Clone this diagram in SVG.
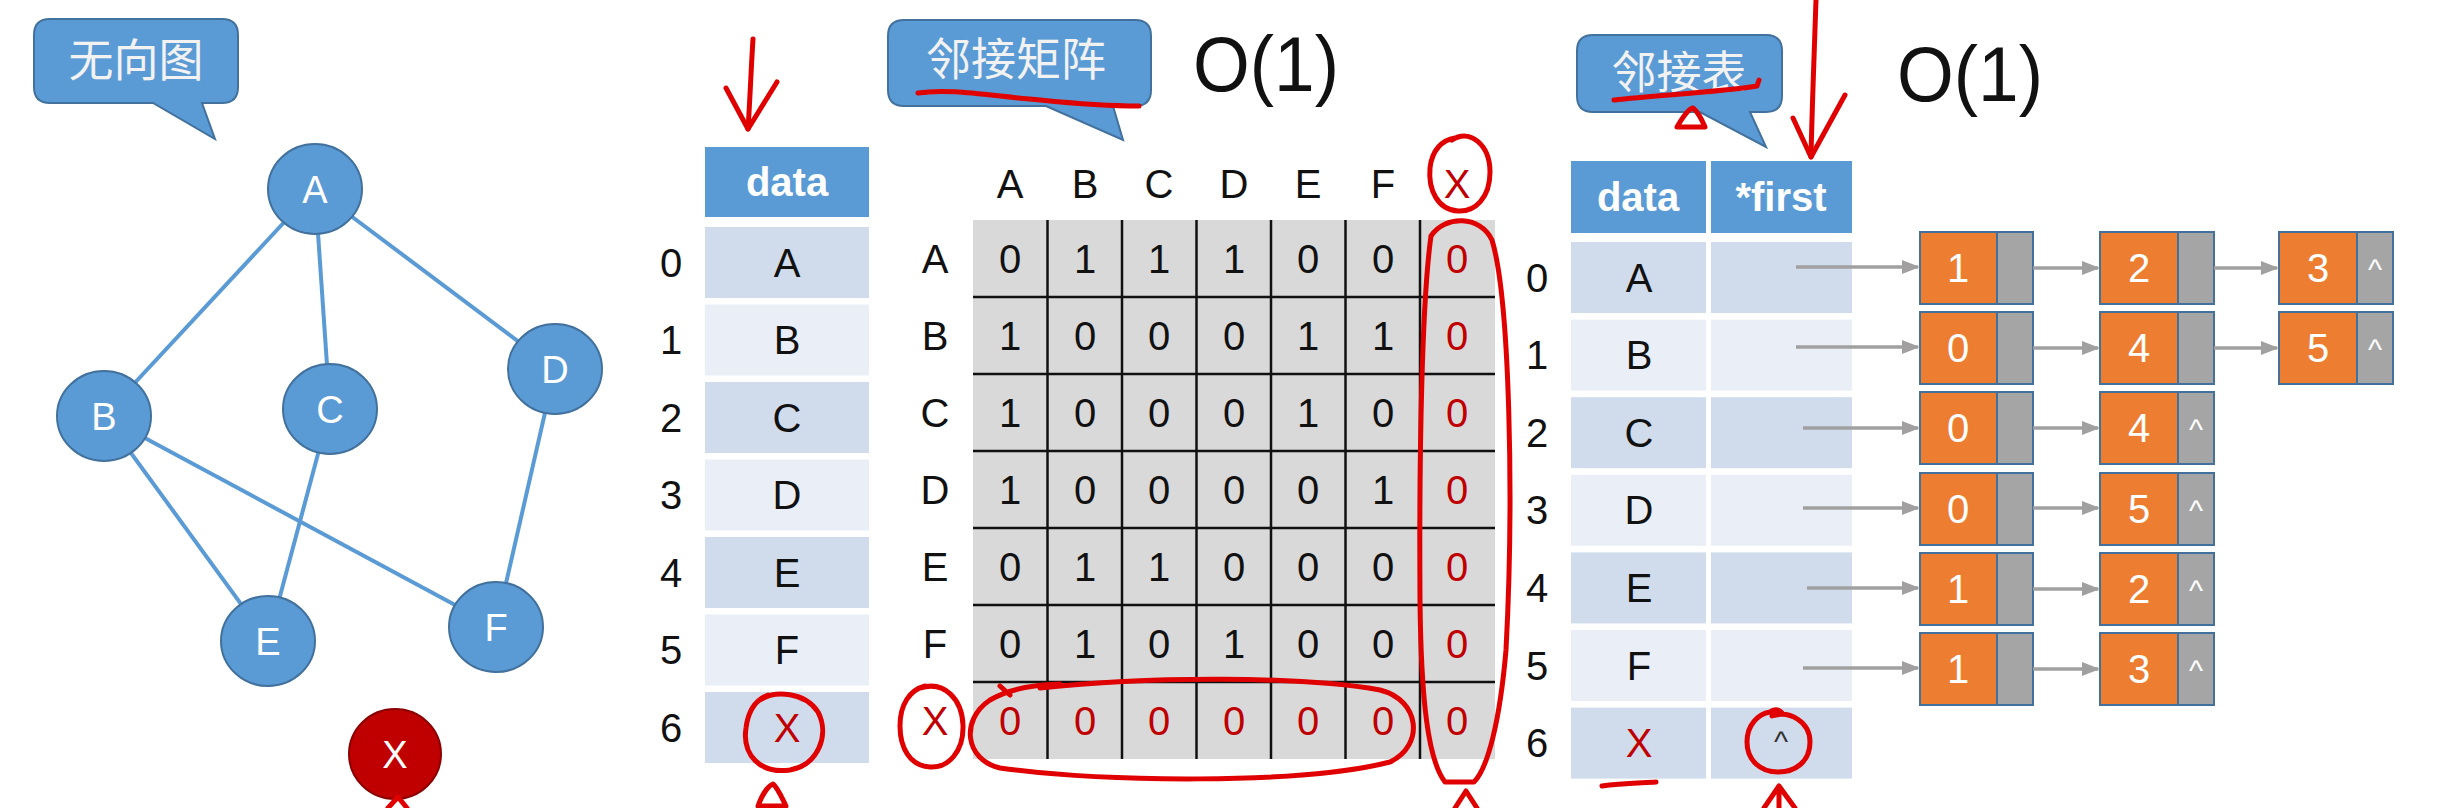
<svg xmlns="http://www.w3.org/2000/svg" width="2446" height="808" viewBox="0 0 2446 808">
<defs>
<style>
.bub{fill:#5B9BD5;stroke:#41719C;stroke-width:2}
.bubt{font-family:"Noto Sans CJK SC","Noto Sans",sans-serif;font-size:45px;fill:#F2F2F2;text-anchor:middle}
.gn{fill:#5B9BD5;stroke:#41719C;stroke-width:2}
.gt{font-family:"Liberation Sans",Arial,sans-serif;font-size:38px;fill:#FFFFFF;text-anchor:middle}
.edge{stroke:#5B9BD5;stroke-width:4;fill:none}
.hd{fill:#5B9BD5}
.hdt{font-family:"Liberation Sans",Arial,sans-serif;font-size:40px;font-weight:bold;fill:#FFFFFF;text-anchor:middle}
.r0{fill:#D0DCEC}
.r1{fill:#EAEFF7}
.t{font-family:"Liberation Sans",Arial,sans-serif;font-size:40px;fill:#111111;text-anchor:middle}
.tr{font-family:"Liberation Sans",Arial,sans-serif;font-size:40px;fill:#C00000;text-anchor:middle}
.big{font-family:"Liberation Sans",Arial,sans-serif;font-size:78px;fill:#111111}
.grid{stroke:#111111;stroke-width:2.5}
.or{fill:#ED7D31;stroke:#41719C;stroke-width:2}
.gy{fill:#A5A5A5;stroke:#41719C;stroke-width:2}
.lt{font-family:"Liberation Sans",Arial,sans-serif;font-size:40px;fill:#FFFFFF;text-anchor:middle}
.cr{font-family:"Liberation Sans",Arial,sans-serif;font-size:30px;fill:#FFFFFF;text-anchor:middle}
.arr{stroke:#A0A0A0;stroke-width:3.5;fill:none;marker-end:url(#ah)}
.red{stroke:#E00000;stroke-width:5;fill:none;stroke-linecap:round;stroke-linejoin:round}
</style>
<marker id="ah" markerUnits="userSpaceOnUse" markerWidth="18" markerHeight="14" refX="16" refY="7" orient="auto">
<path d="M0,0 L18,7 L0,14 Z" fill="#A0A0A0"/>
</marker>
</defs>
<rect width="2446" height="808" fill="#FFFFFF"/>

<!-- Callout 无向图 -->
<g id="callout-graph">
<path class="bub" d="M50,19 H222 Q238,19 238,35 V87 Q238,103 222,103 H202 L215,139 L153,103 H50 Q34,103 34,87 V35 Q34,19 50,19 Z"/>
<text class="bubt" x="136" y="77">无向图</text>
</g>

<!-- Graph edges -->
<g id="connectors">
<line class="edge" x1="315" y1="189" x2="104" y2="416"/>
<line class="edge" x1="315" y1="189" x2="330" y2="409"/>
<line class="edge" x1="315" y1="189" x2="555" y2="369"/>
<line class="edge" x1="104" y1="416" x2="268" y2="641"/>
<line class="edge" x1="104" y1="416" x2="496" y2="627"/>
<line class="edge" x1="330" y1="409" x2="268" y2="641"/>
<line class="edge" x1="555" y1="369" x2="496" y2="627"/>
</g>

<g id="node-A"><ellipse class="gn" cx="315" cy="189" rx="47" ry="45"/><text class="gt" x="315" y="203">A</text></g>
<g id="node-B"><ellipse class="gn" cx="104" cy="416" rx="47" ry="45"/><text class="gt" x="104" y="430">B</text></g>
<g id="node-C"><ellipse class="gn" cx="330" cy="409" rx="47" ry="45"/><text class="gt" x="330" y="423">C</text></g>
<g id="node-D"><ellipse class="gn" cx="555" cy="369" rx="47" ry="45"/><text class="gt" x="555" y="383">D</text></g>
<g id="node-E"><ellipse class="gn" cx="268" cy="641" rx="47" ry="45"/><text class="gt" x="268" y="655">E</text></g>
<g id="node-F"><ellipse class="gn" cx="496" cy="627" rx="47" ry="45"/><text class="gt" x="496" y="641">F</text></g>
<g id="node-X"><ellipse cx="395" cy="754" rx="46" ry="45" fill="#C00000" stroke="#8B0000" stroke-width="2"/><text class="gt" x="395" y="768">X</text></g>

<!-- data table -->
<g id="data-table">
<rect class="hd" x="705" y="147" width="164" height="70"/>
<text class="hdt" x="787" y="196">data</text>
<rect class="r0" x="705" y="227" width="164" height="71"/>
<rect class="r1" x="705" y="304.5" width="164" height="71"/>
<rect class="r0" x="705" y="382" width="164" height="71"/>
<rect class="r1" x="705" y="459.5" width="164" height="71"/>
<rect class="r0" x="705" y="537" width="164" height="71"/>
<rect class="r1" x="705" y="614.5" width="164" height="71"/>
<rect class="r0" x="705" y="692" width="164" height="71"/>
<text class="t" x="787" y="277">A</text>
<text class="t" x="787" y="354">B</text>
<text class="t" x="787" y="432">C</text>
<text class="t" x="787" y="509">D</text>
<text class="t" x="787" y="587">E</text>
<text class="t" x="787" y="664">F</text>
<text class="tr" x="787" y="742">X</text>
<text class="t" x="671" y="277">0</text>
<text class="t" x="671" y="354">1</text>
<text class="t" x="671" y="432">2</text>
<text class="t" x="671" y="509">3</text>
<text class="t" x="671" y="587">4</text>
<text class="t" x="671" y="664">5</text>
<text class="t" x="671" y="742">6</text>
</g>

<!-- Callout 邻接矩阵 -->
<g id="callout-matrix">
<path class="bub" d="M904,20 H1135 Q1151,20 1151,36 V90 Q1151,106 1135,106 H1113 L1123,140 L1046,106 H904 Q888,106 888,90 V36 Q888,20 904,20 Z"/>
<text class="bubt" x="1016" y="76">邻接矩阵</text>
</g>
<text class="big" x="1193" y="91" textLength="146" lengthAdjust="spacingAndGlyphs">O(1)</text>

<!-- adjacency matrix -->
<g id="matrix">
<rect x="973" y="220" width="522" height="539" fill="#D9D9D9"/>
<g class="grid">
<line x1="1047.5" y1="220" x2="1047.5" y2="759"/>
<line x1="1122" y1="220" x2="1122" y2="759"/>
<line x1="1196.5" y1="220" x2="1196.5" y2="759"/>
<line x1="1271" y1="220" x2="1271" y2="759"/>
<line x1="1345.5" y1="220" x2="1345.5" y2="759"/>
<line x1="1420" y1="220" x2="1420" y2="759"/>
<line x1="973" y1="297" x2="1495" y2="297"/>
<line x1="973" y1="374" x2="1495" y2="374"/>
<line x1="973" y1="451" x2="1495" y2="451"/>
<line x1="973" y1="528" x2="1495" y2="528"/>
<line x1="973" y1="605" x2="1495" y2="605"/>
<line x1="973" y1="682" x2="1495" y2="682"/>
</g>
<text class="t" x="1010" y="198">A</text>
<text class="t" x="1085" y="198">B</text>
<text class="t" x="1159" y="198">C</text>
<text class="t" x="1234" y="198">D</text>
<text class="t" x="1308" y="198">E</text>
<text class="t" x="1383" y="198">F</text>
<text class="tr" x="1457" y="198">X</text>
<text class="t" x="935" y="273">A</text>
<text class="t" x="935" y="350">B</text>
<text class="t" x="935" y="427">C</text>
<text class="t" x="935" y="504">D</text>
<text class="t" x="935" y="581">E</text>
<text class="t" x="935" y="658">F</text>
<text class="tr" x="935" y="735">X</text>
<!-- row A -->
<text class="t" x="1010" y="273">0</text><text class="t" x="1085" y="273">1</text><text class="t" x="1159" y="273">1</text><text class="t" x="1234" y="273">1</text><text class="t" x="1308" y="273">0</text><text class="t" x="1383" y="273">0</text><text class="tr" x="1457" y="273">0</text>
<!-- row B -->
<text class="t" x="1010" y="350">1</text><text class="t" x="1085" y="350">0</text><text class="t" x="1159" y="350">0</text><text class="t" x="1234" y="350">0</text><text class="t" x="1308" y="350">1</text><text class="t" x="1383" y="350">1</text><text class="tr" x="1457" y="350">0</text>
<!-- row C -->
<text class="t" x="1010" y="427">1</text><text class="t" x="1085" y="427">0</text><text class="t" x="1159" y="427">0</text><text class="t" x="1234" y="427">0</text><text class="t" x="1308" y="427">1</text><text class="t" x="1383" y="427">0</text><text class="tr" x="1457" y="427">0</text>
<!-- row D -->
<text class="t" x="1010" y="504">1</text><text class="t" x="1085" y="504">0</text><text class="t" x="1159" y="504">0</text><text class="t" x="1234" y="504">0</text><text class="t" x="1308" y="504">0</text><text class="t" x="1383" y="504">1</text><text class="tr" x="1457" y="504">0</text>
<!-- row E -->
<text class="t" x="1010" y="581">0</text><text class="t" x="1085" y="581">1</text><text class="t" x="1159" y="581">1</text><text class="t" x="1234" y="581">0</text><text class="t" x="1308" y="581">0</text><text class="t" x="1383" y="581">0</text><text class="tr" x="1457" y="581">0</text>
<!-- row F -->
<text class="t" x="1010" y="658">0</text><text class="t" x="1085" y="658">1</text><text class="t" x="1159" y="658">0</text><text class="t" x="1234" y="658">1</text><text class="t" x="1308" y="658">0</text><text class="t" x="1383" y="658">0</text><text class="tr" x="1457" y="658">0</text>
<!-- row X -->
<text class="tr" x="1010" y="735">0</text><text class="tr" x="1085" y="735">0</text><text class="tr" x="1159" y="735">0</text><text class="tr" x="1234" y="735">0</text><text class="tr" x="1308" y="735">0</text><text class="tr" x="1383" y="735">0</text><text class="tr" x="1457" y="735">0</text>
</g>

<!-- Callout 邻接表 -->
<g id="callout-list">
<path class="bub" d="M1593,35 H1766 Q1782,35 1782,51 V96 Q1782,112 1766,112 H1750 L1766,147 L1700,112 H1593 Q1577,112 1577,96 V51 Q1577,35 1593,35 Z"/>
<text class="bubt" x="1679" y="89">邻接表</text>
</g>
<text class="big" x="1897" y="101" textLength="146" lengthAdjust="spacingAndGlyphs">O(1)</text>

<!-- adjacency list table -->
<g id="list-table">
<rect class="hd" x="1571" y="161" width="135" height="72"/>
<rect class="hd" x="1711" y="161" width="141" height="72"/>
<text class="hdt" x="1638" y="211">data</text>
<text class="hdt" x="1781" y="211">*first</text>
<rect class="r0" x="1571" y="242" width="135" height="71"/><rect class="r0" x="1711" y="242" width="141" height="71"/>
<rect class="r1" x="1571" y="319.6" width="135" height="71"/><rect class="r1" x="1711" y="319.6" width="141" height="71"/>
<rect class="r0" x="1571" y="397.2" width="135" height="71"/><rect class="r0" x="1711" y="397.2" width="141" height="71"/>
<rect class="r1" x="1571" y="474.8" width="135" height="71"/><rect class="r1" x="1711" y="474.8" width="141" height="71"/>
<rect class="r0" x="1571" y="552.4" width="135" height="71"/><rect class="r0" x="1711" y="552.4" width="141" height="71"/>
<rect class="r1" x="1571" y="630" width="135" height="71"/><rect class="r1" x="1711" y="630" width="141" height="71"/>
<rect class="r0" x="1571" y="707.6" width="135" height="71"/><rect class="r0" x="1711" y="707.6" width="141" height="71"/>
<text class="t" x="1639" y="292">A</text>
<text class="t" x="1639" y="369">B</text>
<text class="t" x="1639" y="447">C</text>
<text class="t" x="1639" y="524">D</text>
<text class="t" x="1639" y="602">E</text>
<text class="t" x="1639" y="680">F</text>
<text class="tr" x="1639" y="757">X</text>
<text x="1781" y="752" font-family="Liberation Sans, Arial, sans-serif" font-size="30" fill="#333333" text-anchor="middle">^</text>
<text class="t" x="1537" y="292">0</text>
<text class="t" x="1537" y="369">1</text>
<text class="t" x="1537" y="447">2</text>
<text class="t" x="1537" y="524">3</text>
<text class="t" x="1537" y="602">4</text>
<text class="t" x="1537" y="680">5</text>
<text class="t" x="1537" y="757">6</text>
</g>

<!-- list nodes -->
<g id="ln-0-1"><rect class="or" x="1920" y="232" width="77" height="72"/><rect class="gy" x="1997" y="232" width="36" height="72"/><text class="lt" x="1958" y="282">1</text></g>
<g id="ln-0-2"><rect class="or" x="2100" y="232" width="78" height="72"/><rect class="gy" x="2178" y="232" width="36" height="72"/><text class="lt" x="2139" y="282">2</text></g>
<g id="ln-0-3"><rect class="or" x="2279" y="232" width="78" height="72"/><rect class="gy" x="2357" y="232" width="36" height="72"/><text class="lt" x="2318" y="282">3</text><text class="cr" x="2375" y="280">^</text></g>

<g id="ln-1-0"><rect class="or" x="1920" y="312" width="77" height="72"/><rect class="gy" x="1997" y="312" width="36" height="72"/><text class="lt" x="1958" y="362">0</text></g>
<g id="ln-1-4"><rect class="or" x="2100" y="312" width="78" height="72"/><rect class="gy" x="2178" y="312" width="36" height="72"/><text class="lt" x="2139" y="362">4</text></g>
<g id="ln-1-5"><rect class="or" x="2279" y="312" width="78" height="72"/><rect class="gy" x="2357" y="312" width="36" height="72"/><text class="lt" x="2318" y="362">5</text><text class="cr" x="2375" y="360">^</text></g>

<g id="ln-2-0"><rect class="or" x="1920" y="392" width="77" height="72"/><rect class="gy" x="1997" y="392" width="36" height="72"/><text class="lt" x="1958" y="442">0</text></g>
<g id="ln-2-4"><rect class="or" x="2100" y="392" width="78" height="72"/><rect class="gy" x="2178" y="392" width="36" height="72"/><text class="lt" x="2139" y="442">4</text><text class="cr" x="2196" y="440">^</text></g>

<g id="ln-3-0"><rect class="or" x="1920" y="473" width="77" height="72"/><rect class="gy" x="1997" y="473" width="36" height="72"/><text class="lt" x="1958" y="523">0</text></g>
<g id="ln-3-5"><rect class="or" x="2100" y="473" width="78" height="72"/><rect class="gy" x="2178" y="473" width="36" height="72"/><text class="lt" x="2139" y="523">5</text><text class="cr" x="2196" y="521">^</text></g>

<g id="ln-4-1"><rect class="or" x="1920" y="553" width="77" height="72"/><rect class="gy" x="1997" y="553" width="36" height="72"/><text class="lt" x="1958" y="603">1</text></g>
<g id="ln-4-2"><rect class="or" x="2100" y="553" width="78" height="72"/><rect class="gy" x="2178" y="553" width="36" height="72"/><text class="lt" x="2139" y="603">2</text><text class="cr" x="2196" y="601">^</text></g>

<g id="ln-5-1"><rect class="or" x="1920" y="633" width="77" height="72"/><rect class="gy" x="1997" y="633" width="36" height="72"/><text class="lt" x="1958" y="683">1</text></g>
<g id="ln-5-3"><rect class="or" x="2100" y="633" width="78" height="72"/><rect class="gy" x="2178" y="633" width="36" height="72"/><text class="lt" x="2139" y="683">3</text><text class="cr" x="2196" y="681">^</text></g>

<!-- list arrows -->
<g id="list-connectors">
<line class="arr" x1="1796" y1="267" x2="1918" y2="267"/>
<line class="arr" x1="1796" y1="347" x2="1918" y2="347"/>
<line class="arr" x1="1803" y1="428" x2="1918" y2="428"/>
<line class="arr" x1="1803" y1="508" x2="1918" y2="508"/>
<line class="arr" x1="1807" y1="588" x2="1918" y2="588"/>
<line class="arr" x1="1803" y1="668" x2="1918" y2="668"/>
<line class="arr" x1="2033" y1="268" x2="2098" y2="268"/>
<line class="arr" x1="2033" y1="348" x2="2098" y2="348"/>
<line class="arr" x1="2033" y1="428" x2="2098" y2="428"/>
<line class="arr" x1="2033" y1="508" x2="2098" y2="508"/>
<line class="arr" x1="2033" y1="589" x2="2098" y2="589"/>
<line class="arr" x1="2033" y1="669" x2="2098" y2="669"/>
<line class="arr" x1="2214" y1="268" x2="2277" y2="268"/>
<line class="arr" x1="2214" y1="348" x2="2277" y2="348"/>
</g>

<!-- red hand-drawn annotations -->
<g id="annotations">
<path class="red" d="M753,39 C751,70 750,100 748,129"/>
<path class="red" d="M726,88 L748,129 L777,82"/>
<path class="red" d="M760,700 C775,690 805,692 818,712 C830,735 818,765 790,770 C760,774 742,755 746,728 C748,712 755,700 768,695"/>
<path class="red" d="M758,806 C762,795 768,786 773,784 C778,788 782,798 786,806 Z" fill="#E00000"/>
<path class="red" d="M918,93 C950,88 990,96 1040,100 C1080,104 1115,106 1139,106"/>
<path class="red" d="M1452,140 C1470,128 1490,145 1490,172 C1490,198 1475,212 1458,211 C1438,210 1428,190 1430,168 C1432,150 1442,140 1455,138"/>
<path class="red" d="M1431,236 C1445,215 1480,215 1492,240 C1510,300 1514,500 1506,650 C1500,720 1488,768 1474,782 L1445,782 C1428,760 1421,700 1420,600 C1419,450 1422,300 1431,236"/>
<path class="red" d="M920,688 C945,680 962,700 963,725 C964,752 948,768 930,767 C910,766 900,748 900,726 C900,704 910,690 925,686"/>
<path class="red" d="M1000,686 L1010,695 M1040,688 C1150,676 1300,676 1380,690 C1420,700 1425,745 1390,762 C1300,785 1100,782 1000,768 C965,760 960,720 990,700 C1010,688 1040,684 1060,684"/>
<path class="red" d="M1455,808 L1466,791 L1477,808"/>
<path class="red" d="M1614,100 C1660,95 1720,92 1757,86 L1759,80"/>
<path class="red" d="M1677,127 C1684,115 1690,108 1693,108 C1698,112 1702,120 1705,127 Z"/>
<path class="red" d="M1816,0 C1814,60 1812,110 1811,157"/>
<path class="red" d="M1793,118 L1811,157 L1845,95"/>
<path class="red" d="M1772,716 C1790,710 1810,722 1810,742 C1810,762 1795,772 1778,772 C1760,772 1747,760 1747,742 C1747,725 1758,714 1770,712 C1775,708 1780,710 1782,713"/>
<path class="red" d="M1779,786 L1779,808 M1764,808 L1779,786 L1795,808"/>
<path class="red" d="M1602,786 C1620,783 1640,783 1656,782"/>
<path class="red" d="M388,808 L398,797 L407,808"/>
</g>
</svg>
